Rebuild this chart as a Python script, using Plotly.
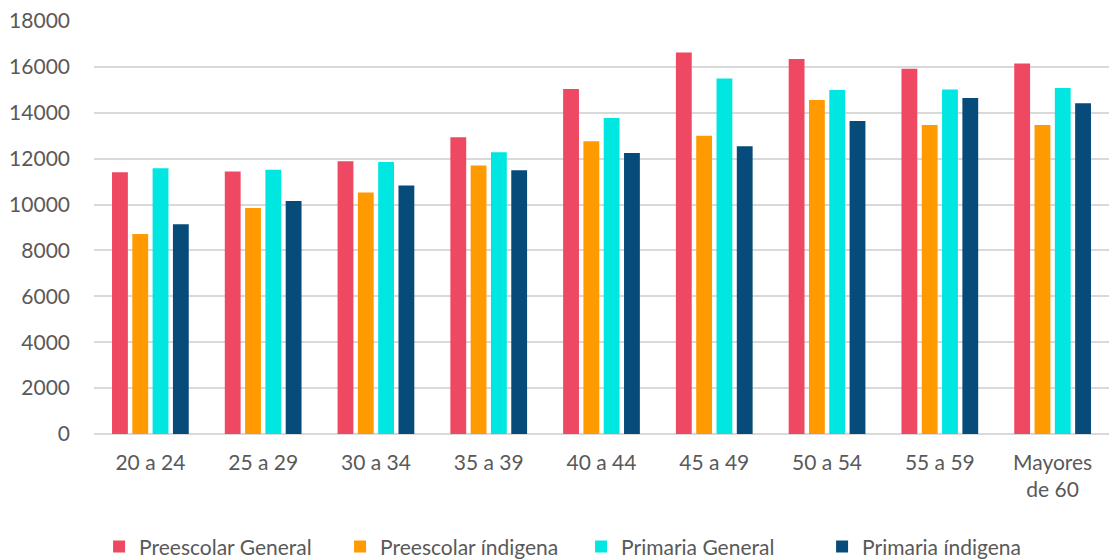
import plotly.graph_objects as go

# Age groups on the category axis
categories = ["20 a 24", "25 a 29", "30 a 34", "35 a 39", "40 a 44",
              "45 a 49", "50 a 54", "55 a 59", "Mayores<br>de 60"]

# Values per teaching level
preescolar_general = [11410, 11440, 11890, 12930, 15040, 16630, 16340, 15920, 16150]
preescolar_indigena = [8720, 9850, 10520, 11700, 12760, 13000, 14560, 13470, 13470]
primaria_general = [11580, 11520, 11860, 12280, 13770, 15490, 14990, 15010, 15080]
primaria_indigena = [9140, 10160, 10830, 11490, 12250, 12540, 13640, 14640, 14410]

series = [
    ("Preescolar General", preescolar_general, "#EE4862"),
    ("Preescolar índigena", preescolar_indigena, "#FF9A00"),
    ("Primaria General", primaria_general, "#00E6E0"),
    ("Primaria índigena", primaria_indigena, "#074B7A"),
]

fig = go.Figure()
for name, vals, color in series:
    fig.add_trace(go.Bar(
        x=categories, y=vals, name=name,
        marker=dict(color=color, line=dict(width=0)),
    ))

font_family = "Lato, 'Open Sans', sans-serif"
text_color = "#595959"

fig.update_layout(
    width=1109, height=559,
    margin=dict(l=94, r=0, t=21, b=125, autoexpand=False),
    paper_bgcolor="white", plot_bgcolor="white",
    barmode="group", bargap=0.28, bargroupgap=0.22,
    font=dict(family=font_family, size=21, color=text_color),
    showlegend=True,
    legend=dict(
        orientation="h", x=0.005, xanchor="left", y=-0.273, yanchor="middle",
        font=dict(size=21, color=text_color),
        itemwidth=30, entrywidth=196, entrywidthmode="pixels",
        traceorder="normal",
    ),
    xaxis=dict(
        showgrid=False, showline=False, zeroline=False,
        tickfont=dict(size=21, color=text_color),
        ticklabelstandoff=14,
    ),
    yaxis=dict(
        range=[0, 18000], dtick=2000, tick0=0,
        showgrid=True, gridcolor="#D9D9D9", gridwidth=1.5,
        zeroline=True, zerolinecolor="#D9D9D9", zerolinewidth=1.5,
        showline=False, tickformat="d",
        tickfont=dict(size=21, color=text_color),
        ticklabelstandoff=23,
    ),
)

fig.write_html("out.html")
